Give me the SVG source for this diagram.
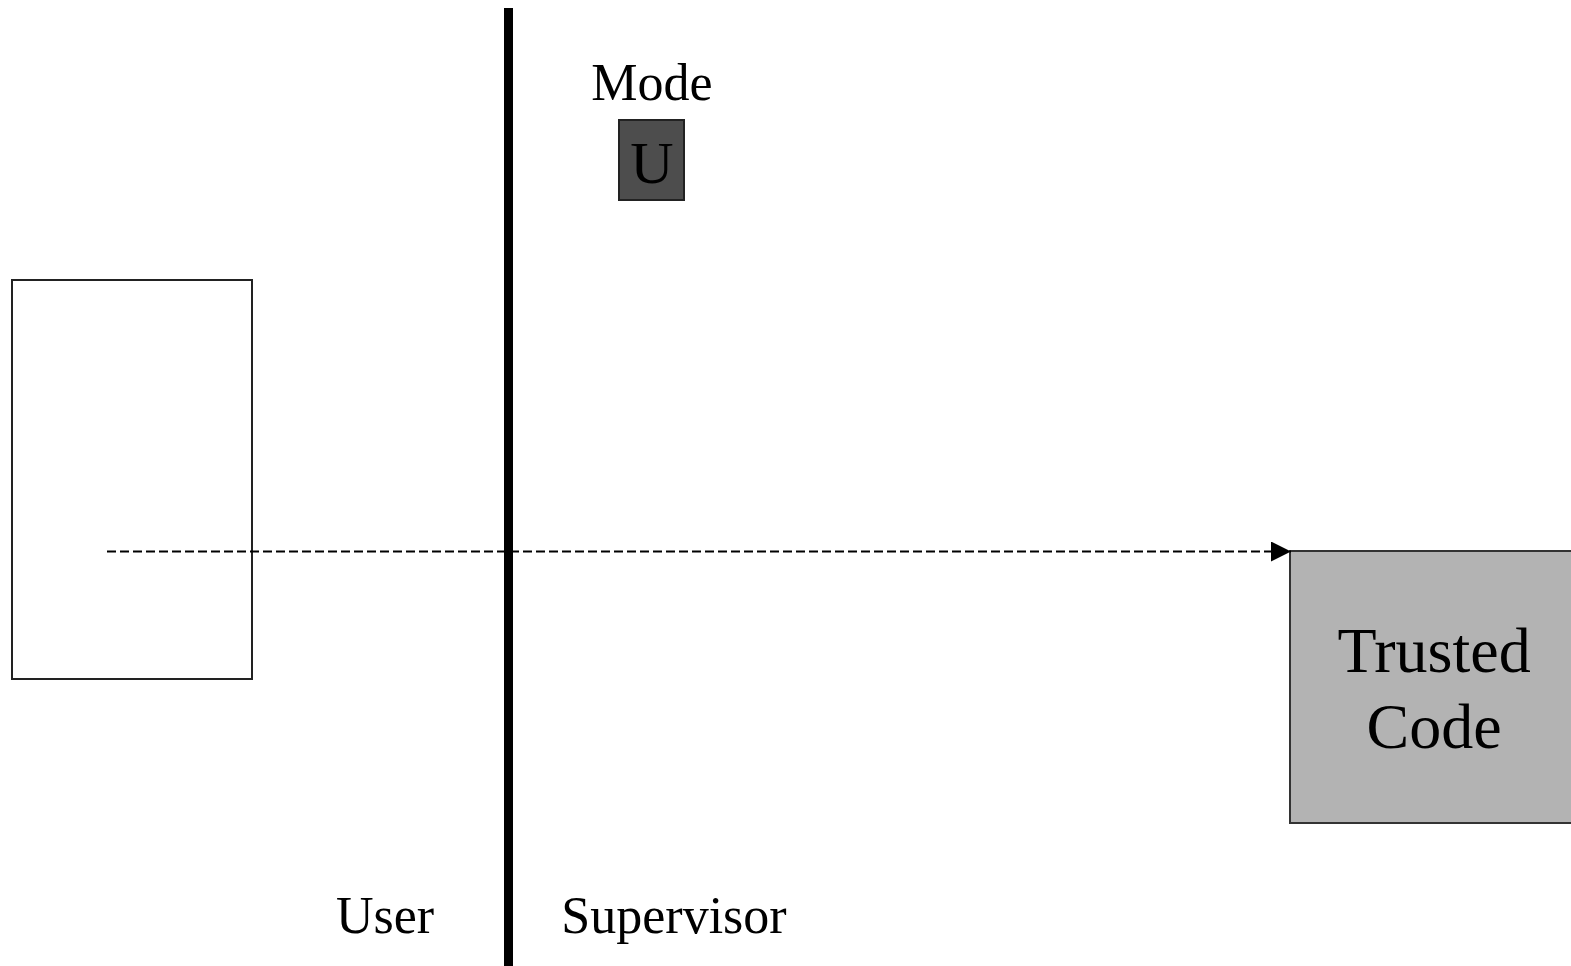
<svg xmlns="http://www.w3.org/2000/svg" width="1571" height="966" viewBox="0 0 1571 966">
  <style>
    .lbl { font-family: "Liberation Serif", "Times New Roman", serif; fill: #000; text-anchor: middle; }
    .box { stroke: #222; stroke-width: 2; }
  </style>
  <defs>
    <marker id="arrowhead" markerWidth="20" markerHeight="20" refX="20" refY="10" orient="auto" markerUnits="userSpaceOnUse">
      <path d="M0,0 L20,10 L0,20 Z" fill="#000"/>
    </marker>
  </defs>
  <rect width="1571" height="966" fill="#fff"/>

  <!-- privilege boundary -->
  <g id="boundary">
    <rect x="504" y="8" width="9" height="958" fill="#000"/>
    <text class="lbl" x="385" y="933" font-size="52">User</text>
    <text class="lbl" x="674" y="933" font-size="52">Supervisor</text>
  </g>

  <!-- mode indicator -->
  <g id="mode">
    <text class="lbl" x="652" y="100" font-size="52">Mode</text>
    <rect class="box" x="619" y="120" width="65" height="80" fill="#4d4d4d"/>
    <text class="lbl" x="652" y="183" font-size="60">U</text>
  </g>

  <!-- user program -->
  <g id="user-program">
    <rect class="box" x="12" y="280" width="240" height="399" fill="none"/>
  </g>

  <!-- trusted code -->
  <g id="trusted-code">
    <rect x="1290" y="551" width="290" height="272" fill="#b3b3b3" stroke="#333" stroke-width="2"/>
    <text class="lbl" x="1434" y="672" font-size="64">Trusted</text>
    <text class="lbl" x="1434" y="748" font-size="64">Code</text>
  </g>

  <!-- connectors -->
  <g id="connectors">
    <line x1="107" y1="551.5" x2="1291" y2="551.5" stroke="#000" stroke-width="2" stroke-dasharray="9 4" marker-end="url(#arrowhead)"/>
  </g>
</svg>
